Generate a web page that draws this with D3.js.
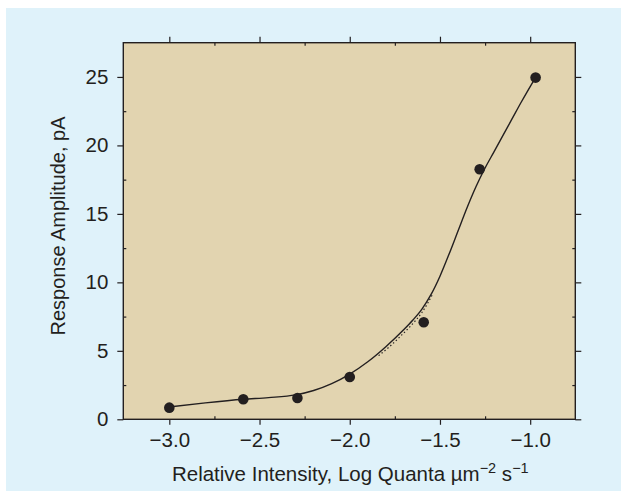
<!DOCTYPE html>
<html>
<head>
<meta charset="utf-8">
<script src="https://cdn.jsdelivr.net/npm/d3@7"></script>
<style>
  html, body { margin: 0; padding: 0; background: #ffffff; }
  svg { display: block; }
  text { font-family: "Liberation Sans", Arial, Helvetica, sans-serif; fill: #231f20; }
</style>
</head>
<body>
<div id="chart"></div>
<script>
// Measured responses: log relative intensity vs. response amplitude (pA)
const intensity = [-3.0, -2.59, -2.29, -2.0, -1.59, -1.28, -0.97];
const amplitude = [0.85, 1.46, 1.56, 3.09, 7.09, 18.26, 24.95];

// Fitted curve (solid)
const fitX = [-2.99, -2.80, -2.59, -2.45, -2.30, -2.20, -2.10, -2.00, -1.90, -1.80, -1.70, -1.65, -1.60, -1.55, -1.50, -1.45, -1.40, -1.35, -1.30, -1.25, -1.20, -1.15, -1.10, -1.05, -1.00, -0.97];
const fitY = [0.92, 1.20, 1.46, 1.58, 1.78, 2.10, 2.60, 3.30, 4.20, 5.30, 6.55, 7.25, 8.05, 9.10, 10.45, 12.05, 13.75, 15.45, 17.00, 18.35, 19.55, 20.75, 21.95, 23.15, 24.30, 24.95];

// Alternative fit over the low-intensity range (dotted)
const altX = [-1.84, -1.78, -1.72, -1.66, -1.60, -1.54];
const altY = [4.65, 5.3, 6.05, 6.85, 7.8, 9.15];

// Axis ticks
const xTicks = [-3.0, -2.5, -2.0, -1.5, -1.0];
const xMinor = [-2.75, -2.25, -1.75, -1.25];
const yTicks = [0, 5, 10, 15, 20, 25];
const yMinor = [2.5, 7.5, 12.5, 17.5, 22.5];

const W = 621, H = 491;
const plot = { left: 123.3, right: 575.3, top: 42.7, bottom: 419.3 };
const ink = "#231f20";

const svg = d3.select("#chart").append("svg")
  .attr("width", W).attr("height", H);

svg.append("rect").attr("x", 0).attr("y", 0).attr("width", W).attr("height", H).attr("fill", "#ffffff");
svg.append("rect").attr("x", 6).attr("y", 8).attr("width", W - 6).attr("height", H - 8).attr("fill", "#dff2fa");

const x = d3.scaleLinear().domain([-3.255, -0.75]).range([plot.left, plot.right]);
const y = d3.scaleLinear().domain([0, 27.5]).range([plot.bottom, plot.top]);

svg.append("rect")
  .attr("x", plot.left).attr("y", plot.top)
  .attr("width", plot.right - plot.left).attr("height", plot.bottom - plot.top)
  .attr("fill", "#e2d4b0");

const fmtX = d3.format(".1f");

function styleAxis(g) {
  g.select(".domain").remove();
  g.selectAll(".tick line").attr("stroke", ink).attr("stroke-width", 1.2);
  g.selectAll(".tick text").style("font-size", "20.5px").attr("fill", ink);
}

// Major ticks point outward, minor ticks inward
const gB = svg.append("g").attr("transform", `translate(0,${plot.bottom})`)
  .call(d3.axisBottom(x).tickValues(xTicks).tickSize(5.5).tickPadding(8).tickFormat(fmtX));
styleAxis(gB);
const gBm = svg.append("g").attr("transform", `translate(0,${plot.bottom})`)
  .call(d3.axisTop(x).tickValues(xMinor).tickSize(3).tickFormat(""));
styleAxis(gBm);

const gT = svg.append("g").attr("transform", `translate(0,${plot.top})`)
  .call(d3.axisTop(x).tickValues(xTicks).tickSize(6).tickFormat(""));
styleAxis(gT);
const gTm = svg.append("g").attr("transform", `translate(0,${plot.top})`)
  .call(d3.axisBottom(x).tickValues(xMinor).tickSize(3).tickFormat(""));
styleAxis(gTm);

const gL = svg.append("g").attr("transform", `translate(${plot.left},0)`)
  .call(d3.axisLeft(y).tickValues(yTicks).tickSize(6).tickPadding(9).tickFormat(d3.format("d")));
styleAxis(gL);
const gLm = svg.append("g").attr("transform", `translate(${plot.left},0)`)
  .call(d3.axisRight(y).tickValues(yMinor).tickSize(3).tickFormat(""));
styleAxis(gLm);

const gR = svg.append("g").attr("transform", `translate(${plot.right},0)`)
  .call(d3.axisRight(y).tickValues(yTicks).tickSize(6).tickFormat(""));
styleAxis(gR);
const gRm = svg.append("g").attr("transform", `translate(${plot.right},0)`)
  .call(d3.axisLeft(y).tickValues(yMinor).tickSize(3).tickFormat(""));
styleAxis(gRm);

// Frame
svg.append("rect")
  .attr("x", plot.left).attr("y", plot.top)
  .attr("width", plot.right - plot.left).attr("height", plot.bottom - plot.top)
  .attr("fill", "none").attr("stroke", ink).attr("stroke-width", 1.4);

// Curves
const line = d3.line().x(d => x(d[0])).y(d => y(d[1])).curve(d3.curveMonotoneX);

svg.append("path")
  .datum(altX.map((v, i) => [v, altY[i]]))
  .attr("d", line)
  .attr("fill", "none").attr("stroke", ink).attr("stroke-width", 1.2)
  .attr("stroke-dasharray", "1.4,2.4");

svg.append("path")
  .datum(fitX.map((v, i) => [v, fitY[i]]))
  .attr("d", line)
  .attr("fill", "none").attr("stroke", ink).attr("stroke-width", 1.4);

// Data points
svg.append("g").selectAll("circle")
  .data(intensity.map((v, i) => [v, amplitude[i]]))
  .join("circle")
  .attr("cx", d => x(d[0])).attr("cy", d => y(d[1]))
  .attr("r", 5.3).attr("fill", ink);

// Axis titles
const xt = svg.append("text")
  .attr("x", (plot.left + plot.right) / 2 + 1).attr("y", 481)
  .attr("text-anchor", "middle").style("font-size", "20.5px");
xt.append("tspan").text("Relative Intensity, Log Quanta \u00b5m");
xt.append("tspan").attr("dy", -8).style("font-size", "14.5px").text("\u22122");
xt.append("tspan").attr("dy", 8).text(" s");
xt.append("tspan").attr("dy", -8).style("font-size", "14.5px").text("\u22121");

svg.append("text")
  .attr("transform", `translate(65,226) rotate(-90)`)
  .attr("text-anchor", "middle").style("font-size", "20px")
  .text("Response Amplitude, pA");
</script>
</body>
</html>
